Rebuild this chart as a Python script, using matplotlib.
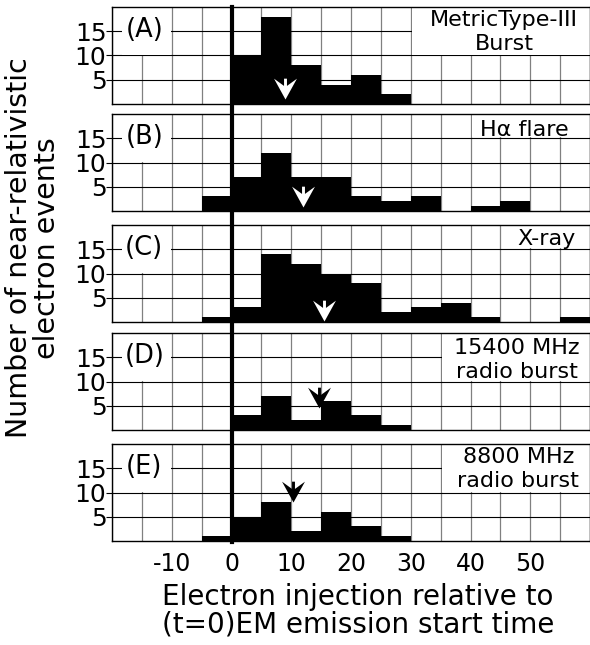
import numpy as np
import matplotlib
matplotlib.use('Agg')
import matplotlib.pyplot as plt
from matplotlib.path import Path
from matplotlib.patches import Rectangle
from matplotlib.lines import Line2D
from matplotlib.transforms import blended_transform_factory

# 5-minute bins from -20 to 60
bin_edges = np.arange(-20, 65, 5)
counts_a = [0, 0, 0, 0, 10, 18, 8, 4, 6, 2, 0, 0, 0, 0, 0, 0]
counts_b = [0, 0, 0, 3, 7, 12, 7, 7, 3, 2, 3, 0, 1, 2, 0, 0]
counts_c = [0, 0, 0, 1, 3, 14, 12, 10, 8, 2, 3, 4, 1, 0, 0, 1]
counts_d = [0, 0, 0, 0, 3, 7, 2, 6, 3, 1, 0, 0, 0, 0, 0, 0]
counts_e = [0, 0, 0, 1, 5, 8, 2, 6, 3, 1, 0, 0, 0, 0, 0, 0]
all_counts = [counts_a, counts_b, counts_c, counts_d, counts_e]

# median arrows
arrow_x = [9, 12, 15.5, 14.7, 10.3]
arrow_tip = [1.1, 0.9, 0.2, 4.5, 8.0]
arrow_col = ['white', 'white', 'white', 'black', 'black']

panel_tags = ['(A)', '(B)', '(C)', '(D)', '(E)']
event_labels = [['MetricType-III', 'Burst'], ['H\u03b1 flare'], ['X-ray'],
                ['15400 MHz', 'radio burst'], ['8800 MHz', 'radio burst']]

x_ticks = [-10, 0, 10, 20, 30, 40, 50]
y_ticks = [5, 10, 15]

plt.rcParams['font.family'] = ['DejaVu Sans']
plt.rcParams['axes.unicode_minus'] = False

W, H = 590, 645
fig = plt.figure(figsize=(W / 100, H / 100), dpi=100)
left_px, right_px = 112, 590
tops = [7, 114, 225, 333, 444]
h_px = 97

# notched arrowhead marker, tip at the origin
verts = [(0, 0), (0.55, 1.0), (0, 0.6), (-0.55, 1.0), (0, 0),
         (-0.07, 0.5), (0.07, 0.5), (0.07, 1.0), (-0.07, 1.0), (-0.07, 0.5)]
codes = [Path.MOVETO, Path.LINETO, Path.LINETO, Path.LINETO, Path.CLOSEPOLY,
         Path.MOVETO, Path.LINETO, Path.LINETO, Path.LINETO, Path.CLOSEPOLY]
arrow_marker = Path(verts, codes)

# white boxes behind the labels (x0, x1, y0)
right_boxes = [(30.2, 60, 10.2), (40.2, 60, 15.2), (45.2, 60, 15.2),
               (35.2, 60, 10.2), (35.2, 60, 10.2)]
right_text_pos = [[(45.6, 17.3), (45.6, 12.3)], [(49, 16.7)], [(52.7, 17.2)],
                  [(47.8, 16.9), (47.8, 11.9)], [(48, 17.4), (48, 12.4)]]

axs = []
for i, counts in enumerate(all_counts):
    ax = fig.add_axes([left_px / W, 1 - (tops[i] + h_px) / H,
                       (right_px - left_px) / W, h_px / H])
    axs.append(ax)
    ax.set_xlim(-20, 60)
    ax.set_ylim(0, 20)
    ax.set_xticks(x_ticks)
    ax.set_xticks(bin_edges, minor=True)
    ax.set_yticks(y_ticks)
    ax.set_axisbelow(True)
    ax.grid(True, which='both', axis='x', color='#808080', lw=0.9)
    ax.grid(True, axis='y', color='black', lw=0.8)
    ax.bar(bin_edges[:-1], counts, width=5, align='edge', color='black', lw=0, zorder=2)

    ax.tick_params(axis='y', direction='out', length=4, width=0.8, labelsize=18, pad=0)
    ax.tick_params(axis='x', which='both', length=0, labelsize=17, pad=8,
                   labelbottom=(i == len(all_counts) - 1))
    for s in ax.spines.values():
        s.set_linewidth(1.0)

    # label boxes
    ax.add_patch(Rectangle((-18.3, 10.2), 8.1, 9.7, facecolor='white', lw=0, zorder=1.5))
    x0, x1, y0 = right_boxes[i]
    ax.add_patch(Rectangle((x0, y0), x1 - x0, 20 - y0, facecolor='white', lw=0, zorder=1.5))
    ax.text(-14.6, 15.2, panel_tags[i], fontsize=18.5, ha='center', va='center', zorder=4)
    for line, (tx, ty) in zip(event_labels[i], right_text_pos[i]):
        ax.text(tx, ty, line, fontsize=16, ha='center', va='center', zorder=4)

    ax.plot([arrow_x[i]], [arrow_tip[i]], ls='none', marker=arrow_marker, ms=30,
            mew=0, color=arrow_col[i], zorder=5)

# thick line marking t = 0 across all panels
trans = blended_transform_factory(axs[-1].transData, fig.transFigure)
fig.add_artist(Line2D([0, 0], [1 - tops[0] / H, 1 - (tops[-1] + h_px + 1) / H],
                      transform=trans, color='black', lw=3.0, zorder=10))

fig.text(358 / W, 1 - 611 / H, 'Electron injection relative to\n(t=0)EM emission start time',
         ha='center', va='center', fontsize=20, linespacing=0.98)
fig.text(33 / W, 1 - 248 / H, 'Number of near-relativistic\nelectron events',
         ha='center', va='center', rotation=90, fontsize=20.5, linespacing=0.98)

fig.savefig('out.png', dpi=100)
